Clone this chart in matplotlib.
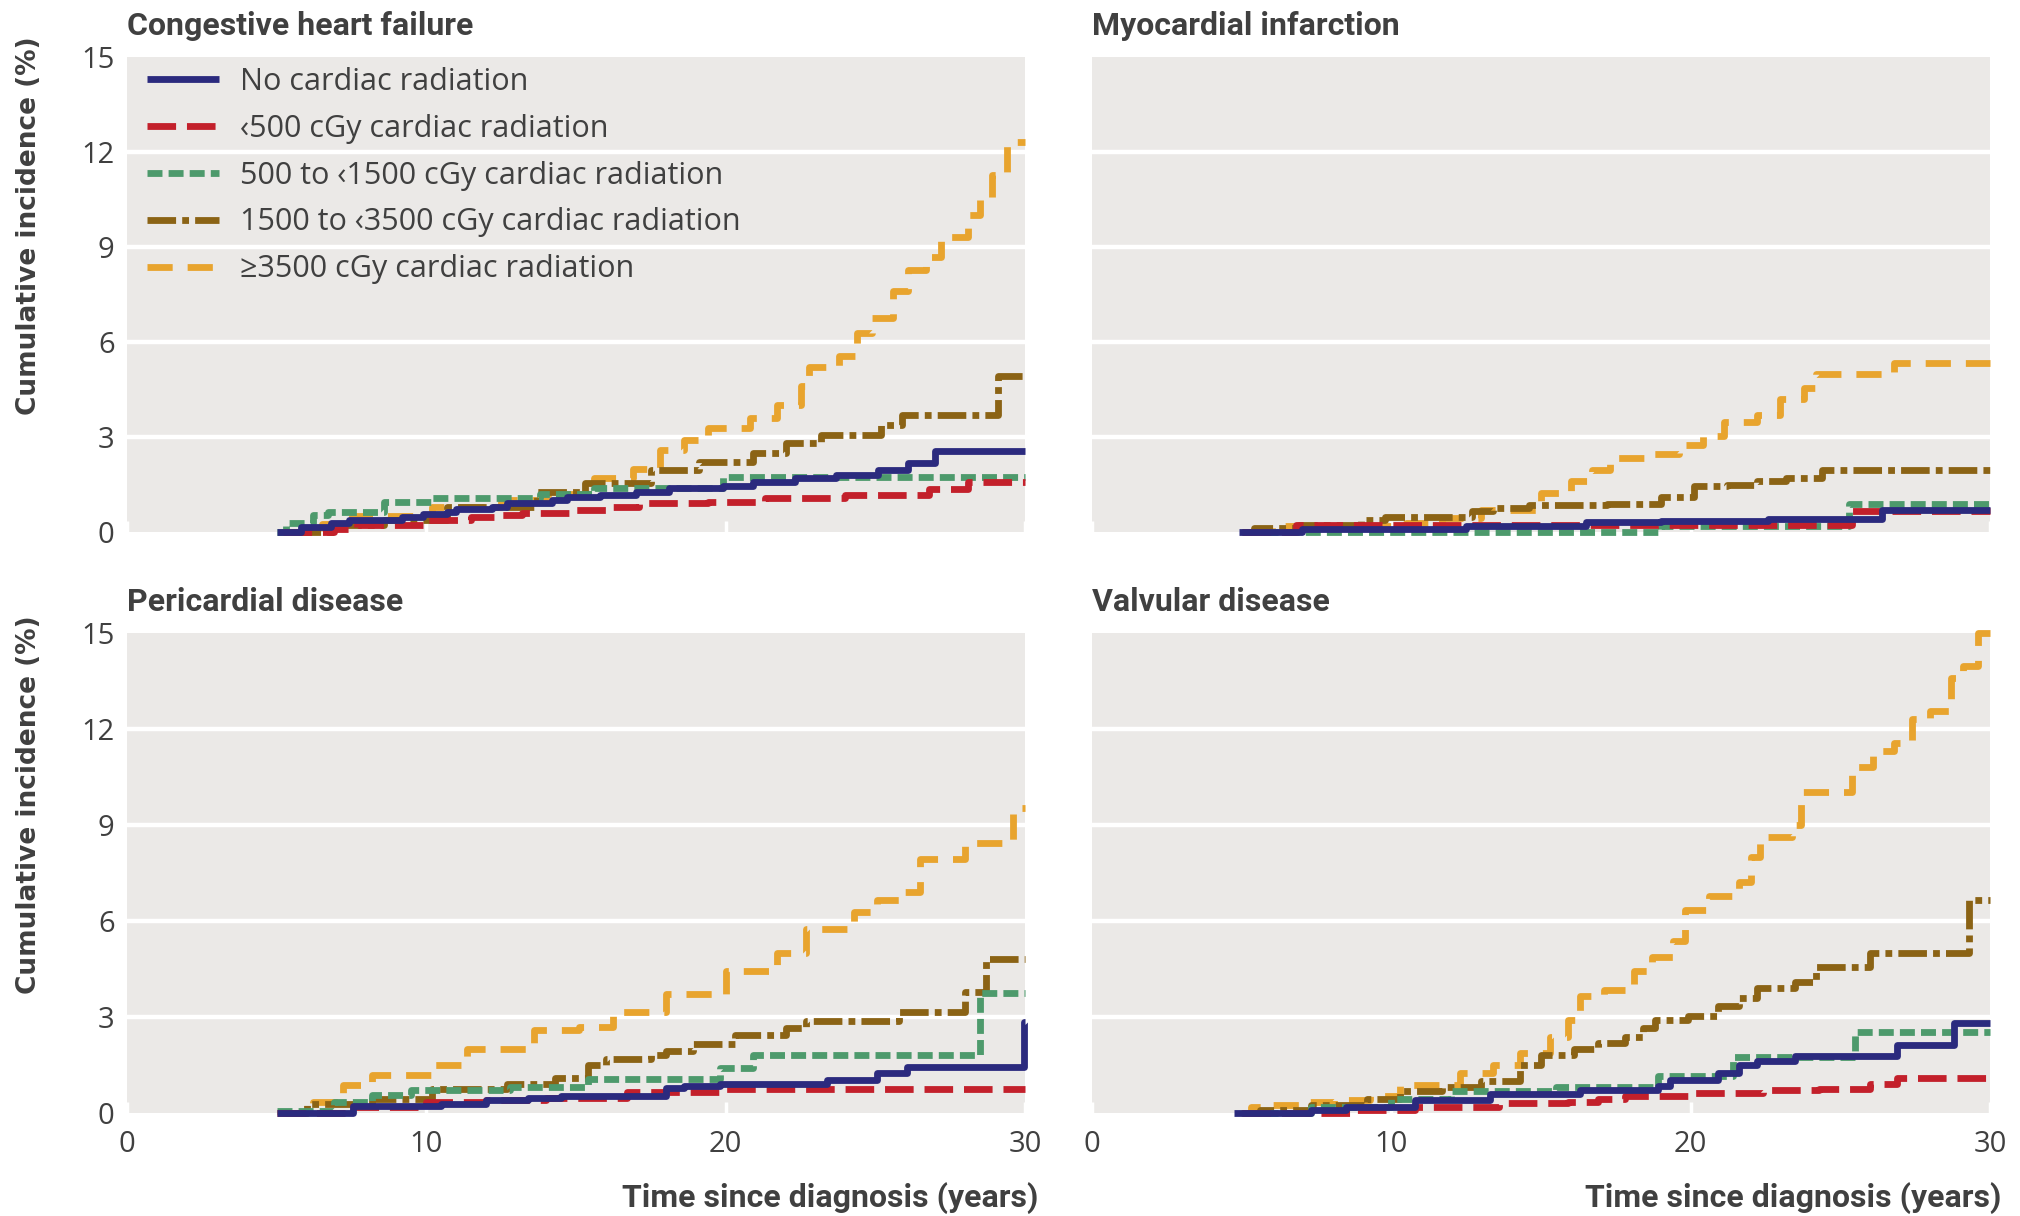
import matplotlib
matplotlib.use("Agg")
import matplotlib.pyplot as plt

# ==========================================
# DATA
# cumulative incidence (%) vs years since diagnosis, step curves
# ==========================================
GROUPS = ["No cardiac radiation", "\u2039500 cGy cardiac radiation",
          "500 to \u20391500 cGy cardiac radiation",
          "1500 to \u20393500 cGy cardiac radiation",
          "\u22653500 cGy cardiac radiation"]
PANELS = ["Congestive heart failure", "Myocardial infarction",
          "Pericardial disease", "Valvular disease"]
X_TICKS = [0, 10, 20, 30]
Y_TICKS = [0, 3, 6, 9, 12, 15]

# Congestive heart failure
chf_none_t = [5.0, 5.8, 6.8, 7.4, 9.2, 9.9, 10.7, 11.0, 12.2, 12.7, 14.2, 14.7, 15.8, 17.0, 18.1, 19.9, 20.9, 22.3, 23.7, 25.1, 26.1, 27.0, 30.0]
chf_none_v = [0.0, 0.17, 0.27, 0.38, 0.48, 0.57, 0.64, 0.72, 0.80, 0.91, 1.01, 1.09, 1.17, 1.27, 1.38, 1.45, 1.59, 1.69, 1.80, 1.95, 2.17, 2.56, 2.56]
chf_lt500_t = [5.2, 6.9, 7.7, 9.9, 11.5, 12.5, 13.2, 14.8, 16.0, 17.1, 19.4, 21.3, 24.0, 26.8, 28.1, 30.0]
chf_lt500_v = [0.0, 0.1, 0.22, 0.38, 0.48, 0.54, 0.59, 0.70, 0.80, 0.91, 0.96, 1.08, 1.17, 1.35, 1.57, 1.57]
chf_500_t = [5.0, 5.3, 6.2, 6.7, 8.6, 10.2, 13.8, 15.6, 19.9, 30.0]
chf_500_v = [0.0, 0.27, 0.54, 0.64, 0.96, 1.08, 1.2, 1.4, 1.74, 1.74]
chf_1500_t = [5.5, 6.9, 8.6, 10.7, 13.7, 15.3, 17.5, 19.1, 20.9, 22.0, 23.2, 25.2, 25.9, 29.1, 30.0]
chf_1500_v = [0.0, 0.22, 0.38, 0.80, 1.27, 1.54, 1.96, 2.22, 2.48, 2.80, 3.07, 3.38, 3.68, 4.92, 4.92]
chf_3500_t = [5.2, 6.5, 7.5, 10.2, 12.5, 14.0, 15.6, 16.9, 17.8, 18.6, 19.4, 20.8, 21.7, 22.5, 22.8, 23.8, 24.4, 24.9, 25.6, 26.1, 26.7, 27.2, 28.1, 28.5, 28.9, 29.4, 30.0]
chf_3500_v = [0.0, 0.25, 0.5, 0.8, 1.0, 1.2, 1.7, 2.0, 2.6, 2.9, 3.3, 3.6, 4.0, 4.6, 5.2, 5.55, 6.3, 6.75, 7.6, 8.27, 8.7, 9.3, 10.0, 10.5, 11.27, 12.32, 12.32]

# Myocardial infarction
mi_none_t = [4.9, 7.0, 12.5, 16.5, 19.0, 22.6, 26.4, 30.0]
mi_none_v = [0.0, 0.1, 0.2, 0.31, 0.36, 0.42, 0.68, 0.68]
mi_lt500_t = [5.0, 6.8, 25.4, 30.0]
mi_lt500_v = [0.0, 0.22, 0.65, 0.65]
mi_500_t = [5.0, 19.0, 25.3, 30.0]
mi_500_v = [0.0, 0.2, 0.87, 0.87]
mi_1500_t = [5.2, 5.4, 6.9, 9.0, 9.8, 12.7, 13.4, 14.6, 17.2, 19.0, 20.1, 21.2, 22.2, 23.2, 24.4, 30.0]
mi_1500_v = [0.0, 0.14, 0.23, 0.39, 0.48, 0.65, 0.76, 0.84, 0.90, 1.10, 1.44, 1.50, 1.61, 1.72, 1.97, 1.97]
mi_3500_t = [5.3, 6.0, 10.5, 11.7, 13.0, 15.0, 16.0, 16.7, 17.3, 18.5, 19.6, 20.4, 21.1, 22.2, 23.0, 23.8, 24.2, 26.8, 30.0]
mi_3500_v = [0.0, 0.2, 0.3, 0.45, 0.7, 1.22, 1.61, 1.95, 2.35, 2.47, 2.75, 3.03, 3.48, 3.71, 4.21, 4.56, 5.0, 5.33, 5.33]

# Pericardial disease
per_none_t = [5.0, 7.55, 10.5, 12.0, 13.4, 14.5, 18.0, 18.6, 19.8, 23.4, 25.05, 26.05, 29.95, 30.0]
per_none_v = [0.0, 0.22, 0.28, 0.4, 0.46, 0.52, 0.78, 0.84, 0.9, 1.03, 1.24, 1.43, 2.85, 2.85]
per_lt500_t = [5.0, 7.4, 10.0, 12.0, 14.0, 16.7, 19.9, 30.0]
per_lt500_v = [0.0, 0.2, 0.35, 0.4, 0.46, 0.65, 0.74, 0.74]
per_500_t = [5.0, 6.9, 8.2, 9.5, 12.8, 15.4, 19.8, 20.9, 28.5, 30.0]
per_500_v = [0.05, 0.35, 0.55, 0.73, 0.8, 1.05, 1.4, 1.81, 3.75, 3.75]
per_1500_t = [5.3, 6.0, 8.2, 10.2, 12.7, 14.3, 15.4, 16.0, 17.5, 18.0, 18.9, 20.3, 22.0, 22.7, 25.8, 28.0, 28.7, 30.0]
per_1500_v = [0.0, 0.28, 0.45, 0.75, 0.9, 1.1, 1.5, 1.69, 1.81, 1.94, 2.16, 2.45, 2.65, 2.87, 3.15, 3.79, 4.81, 4.81]
per_3500_t = [5.2, 6.2, 7.2, 8.2, 10.3, 11.35, 13.6, 15.1, 16.25, 18.0, 20.0, 21.7, 22.7, 24.3, 25.05, 25.8, 26.5, 28.0, 29.6, 30.0]
per_3500_v = [0.0, 0.35, 0.86, 1.18, 1.5, 2.0, 2.58, 2.7, 3.15, 3.73, 4.43, 5.0, 5.76, 6.27, 6.65, 6.9, 7.93, 8.44, 9.52, 9.52]

# Valvular disease
val_none_t = [4.75, 7.3, 8.5, 10.8, 13.3, 16.3, 18.9, 19.3, 20.9, 21.6, 22.2, 23.5, 26.9, 28.8, 30.0]
val_none_v = [0.0, 0.1, 0.2, 0.4, 0.59, 0.72, 0.84, 1.03, 1.24, 1.5, 1.62, 1.78, 2.13, 2.8, 2.8]
val_lt500_t = [5.0, 8.8, 10.8, 13.6, 15.9, 16.9, 17.8, 19.9, 22.4, 24.3, 26.0, 26.9, 30.0]
val_lt500_v = [0.0, 0.1, 0.2, 0.3, 0.35, 0.45, 0.54, 0.63, 0.72, 0.76, 0.9, 1.09, 1.09]
val_500_t = [5.0, 7.3, 10.0, 12.0, 15.5, 18.9, 21.4, 25.5, 30.0]
val_500_v = [0.0, 0.2, 0.44, 0.7, 0.82, 1.15, 1.75, 2.54, 2.54]
val_1500_t = [5.2, 5.6, 7.3, 9.2, 10.3, 11.7, 13.0, 14.3, 15.0, 16.1, 16.9, 17.8, 18.4, 18.8, 19.9, 20.9, 21.6, 22.2, 23.5, 24.2, 26.0, 29.3, 30.0]
val_1500_v = [0.0, 0.1, 0.25, 0.44, 0.7, 0.82, 1.0, 1.5, 1.81, 2.0, 2.2, 2.39, 2.65, 2.9, 3.03, 3.35, 3.6, 3.92, 4.1, 4.55, 5.0, 6.65, 6.65]
val_3500_t = [4.98, 5.3, 5.8, 7.0, 8.1, 9.3, 10.3, 12.3, 13.4, 14.3, 15.3, 15.9, 16.3, 17.1, 18.1, 18.7, 19.4, 19.8, 20.6, 21.6, 22.0, 22.3, 23.4, 23.7, 25.4, 26.1, 26.8, 27.4, 28.0, 28.7, 29.1, 29.6, 30.0]
val_3500_v = [0.0, 0.19, 0.25, 0.35, 0.4, 0.54, 0.86, 1.24, 1.5, 1.88, 2.39, 2.9, 3.66, 3.85, 4.43, 4.87, 5.38, 6.34, 6.78, 7.23, 7.99, 8.62, 9.0, 10.03, 10.8, 11.3, 11.56, 12.3, 12.57, 13.6, 13.98, 15.0, 15.0]

# ==========================================
# STYLE
# ==========================================
COLORS = ["#2b2a7e", "#c3202b", "#4d9a6c", "#8b6315", "#e8a42e"]
DASHES = [None, (4.2, 1.6), (2.2, 0.9), (4.2, 0.9, 1.0, 0.9), (3.7, 2.2)]
ZORDERS = [7, 6, 5, 4, 3]
LW = 4.9
BG = "#ebe9e7"
TXT = "#404040"

TICK_FONT = ["Open Sans", "DejaVu Sans"]
COND_BOLD = ["Roboto", "DejaVu Sans"]

panel_data = [
    [(chf_none_t, chf_none_v), (chf_lt500_t, chf_lt500_v), (chf_500_t, chf_500_v), (chf_1500_t, chf_1500_v), (chf_3500_t, chf_3500_v)],
    [(mi_none_t, mi_none_v), (mi_lt500_t, mi_lt500_v), (mi_500_t, mi_500_v), (mi_1500_t, mi_1500_v), (mi_3500_t, mi_3500_v)],
    [(per_none_t, per_none_v), (per_lt500_t, per_lt500_v), (per_500_t, per_500_v), (per_1500_t, per_1500_v), (per_3500_t, per_3500_v)],
    [(val_none_t, val_none_v), (val_lt500_t, val_lt500_v), (val_500_t, val_500_v), (val_1500_t, val_1500_v), (val_3500_t, val_3500_v)],
]

W, H = 2020, 1216
fig = plt.figure(figsize=(W / 100, H / 100), dpi=100)

# axes boxes in pixels: (left, top, right, bottom)
boxes = [(127, 57, 1025, 532), (1092, 57, 1990, 532),
         (127, 633, 1025, 1113), (1092, 633, 1990, 1113)]

axes = []
for i, (l, t, r, b) in enumerate(boxes):
    ax = fig.add_axes([l / W, 1 - b / H, (r - l) / W, (b - t) / H])
    ax.set_facecolor(BG)
    ax.set_xlim(0, 30)
    ax.set_ylim(0, 15)
    for s in ax.spines.values():
        s.set_visible(False)
    ax.set_yticks(Y_TICKS)
    ax.set_xticks(X_TICKS)
    for yv in Y_TICKS[1:-1]:
        ax.axhline(yv, color="white", lw=3.2, zorder=1)
    ax.tick_params(axis="y", length=0, pad=9, labelsize=21, labelcolor=TXT)
    ax.tick_params(axis="x", direction="in", length=8, width=2.5, color="white",
                   pad=12, labelsize=21, labelcolor=TXT)
    for lab in ax.get_xticklabels() + ax.get_yticklabels():
        lab.set_family(TICK_FONT)
    if i % 2 == 1:
        ax.tick_params(axis="y", labelleft=False)
    if i < 2:
        ax.tick_params(axis="x", labelbottom=False)

    for g in range(5):
        t_vals, v_vals = panel_data[i][g]
        line, = ax.plot(t_vals, v_vals, drawstyle="steps-post", color=COLORS[g],
                        lw=LW, zorder=ZORDERS[g], clip_on=False, label=GROUPS[g],
                        solid_capstyle="butt", dash_capstyle="butt")
        if DASHES[g] is not None:
            line.set_dashes(DASHES[g])
    axes.append(ax)

    # panel title
    fig.text(l / W, 1 - (t - 31) / H, PANELS[i], ha="left", va="center",
             fontsize=23, fontweight="bold", color=TXT, family=COND_BOLD)

# legend inside first panel
leg = axes[0].legend(loc="upper left", bbox_to_anchor=(0.022, 0.979), frameon=False,
                     borderaxespad=0, borderpad=0, handlelength=2.35, handletextpad=0.7,
                     labelspacing=0.55, prop={"family": ["Open Sans", "DejaVu Sans"], "size": 22})
for txt in leg.get_texts():
    txt.set_color(TXT)

# y labels
for yc in [226, 805]:
    fig.text(29 / W, 1 - yc / H, "Cumulative incidence (%)", rotation=90,
             ha="center", va="center", fontsize=19, fontweight="bold",
             color=TXT, family="DejaVu Sans")

# x labels
for xr in [1038, 2001]:
    fig.text(xr / W, 1 - 1198 / H, "Time since diagnosis (years)", ha="right",
             va="center", fontsize=23, fontweight="bold", color=TXT, family=COND_BOLD)

fig.savefig("out.png", dpi=100, facecolor="white")
